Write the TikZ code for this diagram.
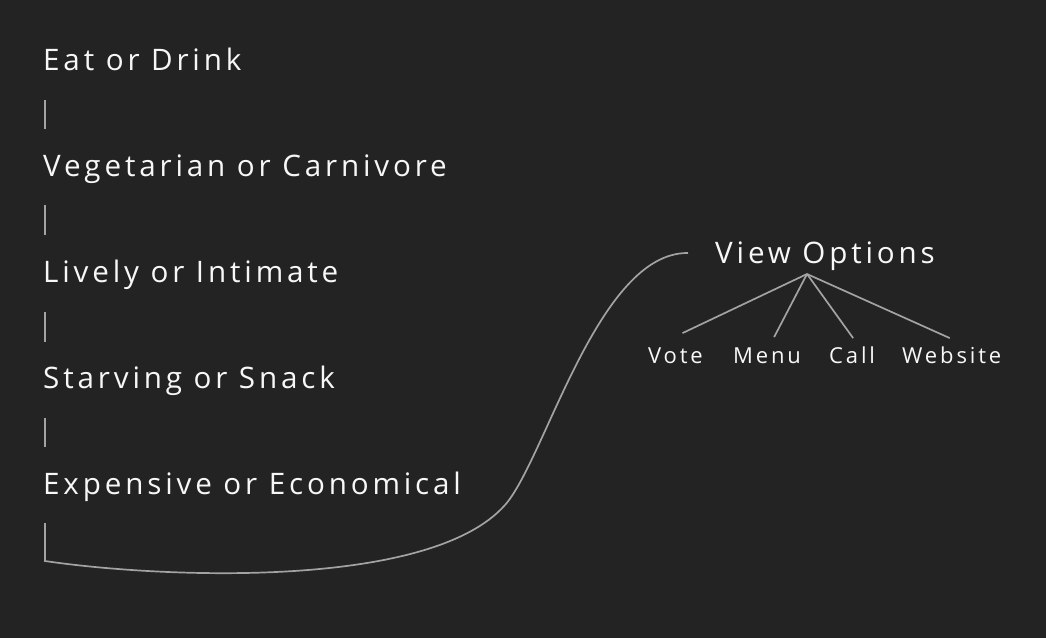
\documentclass[tikz,border=0pt]{standalone}
\usepackage{fontspec}
\newfontfamily\diafont[LetterSpace=13]{Open Sans}
\usetikzlibrary{positioning,calc}
\definecolor{bgdark}{HTML}{232323}
\definecolor{linegrey}{HTML}{A3A3A3}
\definecolor{textwhite}{HTML}{F7F7F7}

\begin{document}
\begin{tikzpicture}[x=1pt,y=-1pt,
  questionnode/.style={anchor=base west,inner sep=0pt,text=textwhite,font=\diafont\fontsize{29.6}{34}\selectfont},
  optionnode/.style={anchor=base west,inner sep=0pt,text=textwhite,font=\diafont\fontsize{22}{26}\selectfont},
  tickline/.style={draw=linegrey,line width=1.7pt},
  branchline/.style={draw=linegrey,line width=1.7pt}]
  \fill[bgdark] (0,0) rectangle (1046,638);
  \useasboundingbox (0,0) rectangle (1046,638);

  \node[questionnode] (eat) at (43,70) {Eat or Drink};
  \node[questionnode] (veg) at (43,176) {Vegetarian or Carnivore};
  \node[questionnode] (lively) at (43,282) {Lively or Intimate};
  \node[questionnode] (starving) at (43,388) {Starving or Snack};
  \node[questionnode] (expensive) at (43,494) {Expensive or Economical};

  \node[questionnode] (view) at (715,263) {View Options};
  \coordinate (apex) at (807,274);
  \node[optionnode] (vote) at (648,363) {Vote};
  \node[optionnode] (menu) at (733,363) {Menu};
  \node[optionnode] (call) at (829,363) {Call};
  \node[optionnode] (website) at (902,363) {Website};

  \draw[tickline] ([xshift=2pt,yshift=-30pt]eat.base west) -- ([xshift=2pt,yshift=47pt]veg.base west);
  \draw[tickline] ([xshift=2pt,yshift=-29pt]veg.base west) -- ([xshift=2pt,yshift=47pt]lively.base west);
  \draw[tickline] ([xshift=2pt,yshift=-30pt]lively.base west) -- ([xshift=2pt,yshift=46pt]starving.base west);
  \draw[tickline] ([xshift=2pt,yshift=-30pt]starving.base west) -- ([xshift=2pt,yshift=47pt]expensive.base west);

  \coordinate (corner) at (45,561);
  \coordinate (viewend) at ([xshift=-27pt,yshift=10pt]view.base west);
  \draw[tickline] ([xshift=2pt,yshift=-29pt]expensive.base west) -- (corner)
    .. controls (160,578) and (430,590) .. (505,505)
    .. controls (545,460) and (598,252) .. (viewend);

  \draw[branchline] (apex) -- ([xshift=7pt,yshift=14pt]vote.north);
  \draw[branchline] (apex) -- ([xshift=7pt,yshift=10pt]menu.north);
  \draw[branchline] (apex) -- ([xshift=1pt,yshift=8pt]call.north);
  \draw[branchline] (apex) -- ([xshift=-2pt,yshift=8pt]website.north);
\end{tikzpicture}
\end{document}
